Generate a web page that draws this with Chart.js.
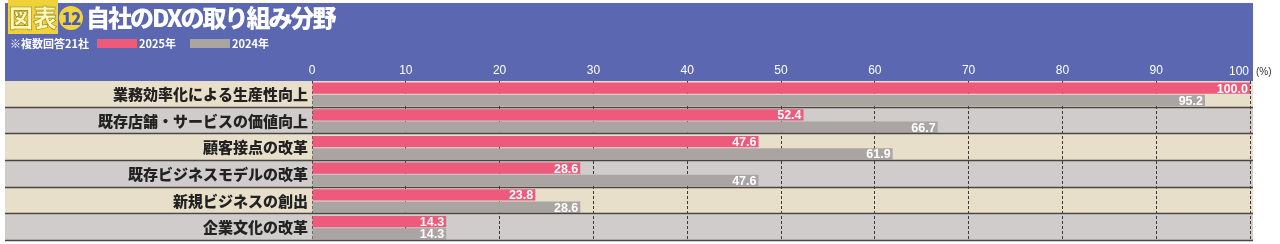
<!DOCTYPE html>
<html>
<head>
<meta charset="utf-8">
<script src="https://cdn.jsdelivr.net/npm/chart.js@4"></script>
<style>
  body { margin: 0; background: #fff; }
  #wrap { position: relative; width: 1280px; height: 244px; }
  #wrap canvas { position: absolute; left: 0; top: 0; }
  .title {
    position: absolute; left: 8px; top: 2px; white-space: nowrap;
    font-family: "Noto Sans CJK JP", sans-serif; font-weight: 900;
    font-size: 24px; line-height: 30px; color: #fff; letter-spacing: -2px;
  }
  .title .tag {
    background: #efd23a; color: #fff8b8; padding: 0 1px;
    -webkit-text-stroke: 0.6px #9a8420; letter-spacing: 0;
  }
  .title .num {
    display: inline-block; width: 24px; height: 24px; line-height: 24px;
    border-radius: 50%; background: #f2d43c; color: #4a5aa8;
    font-size: 17px; text-align: center; letter-spacing: -1px;
    vertical-align: 2px; margin: 0 3px 0 1px;
  }
  .sub {
    position: absolute; top: 36px; white-space: nowrap;
    font-family: "Noto Sans CJK JP", sans-serif; font-weight: 700;
    font-size: 11px; line-height: 14px; color: #fff;
  }
  .swatch { position: absolute; top: 39px; width: 40px; height: 9px; }
</style>
</head>
<body>
<div id="wrap">
  <canvas id="dxChart" width="1280" height="244"></canvas>
  <div class="title"><span class="tag">図表</span><span class="num">12</span>自社のDXの取り組み分野</div>
  <div class="sub" style="left:10px">※複数回答21社</div>
  <div class="swatch" style="left:97px;background:#ee5a7b"></div>
  <div class="sub" style="left:139px">2025年</div>
  <div class="swatch" style="left:190px;background:#aaa5a2"></div>
  <div class="sub" style="left:232px">2024年</div>
</div>
<script>
const categories = [
  '業務効率化による生産性向上',
  '既存店舗・サービスの価値向上',
  '顧客接点の改革',
  '既存ビジネスモデルの改革',
  '新規ビジネスの創出',
  '企業文化の改革'
];
const values2025 = [100.0, 52.4, 47.6, 28.6, 23.8, 14.3];
const values2024 = [95.2, 66.7, 61.9, 47.6, 28.6, 14.3];
const seriesNames = ['2025年', '2024年'];

const headerBlue = '#5b68b1';
const rowColours = ['#e7dfca', '#cfcccb'];
const lineColour = '#4a4540';
const tickFont = '"Liberation Sans Narrow", "Liberation Sans", sans-serif';

// header band, row stripes and separators
const backdrop = {
    id: 'backdrop',
    beforeDraw: function (chart) {
        const ctx = chart.ctx;
        const area = chart.chartArea;
        const yScale = chart.scales.y;
        const left = 5, right = area.right + 3;
        const band = yScale.height / categories.length;
        ctx.save();
        ctx.fillStyle = headerBlue;
        ctx.fillRect(left, 3, right - left, area.top - 3);
        categories.forEach(function (c, i) {
            const mid = yScale.getPixelForValue(i);
            ctx.fillStyle = rowColours[i % 2];
            ctx.fillRect(left, mid - band / 2, right - left, band);
        });
        ctx.restore();
    },
    afterDraw: function (chart) {
        const ctx = chart.ctx;
        const area = chart.chartArea;
        const yScale = chart.scales.y;
        const xScale = chart.scales.x;
        const band = yScale.height / categories.length;
        ctx.save();
        ctx.strokeStyle = lineColour;
        ctx.lineWidth = 1.5;
        categories.forEach(function (c, i) {
            const y = Math.round(yScale.getPixelForValue(i) + band / 2) - 0.5;
            ctx.beginPath();
            ctx.moveTo(5, y);
            ctx.lineTo(area.right + 3, y);
            ctx.stroke();
        });
        // value labels
        ctx.font = 'bold 12.5px ' + tickFont;
        ctx.fillStyle = '#ffffff';
        ctx.textAlign = 'right';
        ctx.textBaseline = 'middle';
        chart.data.datasets.forEach(function (ds, di) {
            chart.getDatasetMeta(di).data.forEach(function (bar, i) {
                ctx.fillText(ds.data[i].toFixed(1), bar.x - 2, bar.y + 1);
            });
        });
        // last tick label sits inside the header, then the unit
        const x100 = xScale.getPixelForValue(100);
        ctx.font = '12px ' + tickFont;
        ctx.textAlign = 'right';
        ctx.fillText('100', x100 - 1, area.top - 9);
        ctx.font = '10px "Liberation Sans", sans-serif';
        ctx.fillStyle = '#333';
        ctx.textAlign = 'left';
        ctx.fillText('(%)', x100 + 6, area.top - 9);
        ctx.restore();
    }
};

const ctx = document.getElementById('dxChart').getContext('2d');
const dxChart = new Chart(ctx, {
    type: 'bar',
    data: {
        labels: categories,
        datasets: [{
            label: seriesNames[0],
            data: values2025,
            backgroundColor: '#ee5a7b',
            categoryPercentage: 0.92,
            barPercentage: 0.92
        }, {
            label: seriesNames[1],
            data: values2024,
            backgroundColor: '#aaa5a2',
            categoryPercentage: 0.92,
            barPercentage: 0.92
        }]
    },
    options: {
        indexAxis: 'y',
        responsive: false,
        animation: false,
        devicePixelRatio: 1,
        layout: { padding: { left: 5, right: 30, top: 0, bottom: 3 } },
        plugins: {
            legend: { display: false },
            tooltip: { enabled: false }
        },
        scales: {
            x: {
                position: 'top',
                min: 0,
                max: 100,
                afterFit: function (scale) {
                    scale.height = 81;
                    scale.paddingLeft = 0;
                    scale.paddingRight = 0;
                },
                ticks: {
                    stepSize: 10,
                    color: '#ffffff',
                    padding: 3,
                    maxRotation: 0,
                    callback: function (v) { return v === 100 ? '' : v; },
                    font: { size: 12, family: tickFont }
                },
                grid: { color: '#3d3833', lineWidth: 1, drawTicks: false },
                border: { display: false, dash: [3, 2] }
            },
            y: {
                afterFit: function (scale) {
                    scale.width = 307;
                    scale.paddingTop = 0;
                    scale.paddingBottom = 0;
                },
                ticks: {
                    color: '#222222',
                    padding: 4,
                    font: { size: 15, weight: 900, family: '"Noto Sans CJK JP", sans-serif' }
                },
                grid: { display: false, drawTicks: false },
                border: { display: false }
            }
        }
    },
    plugins: [backdrop]
});
</script>
</body>
</html>
